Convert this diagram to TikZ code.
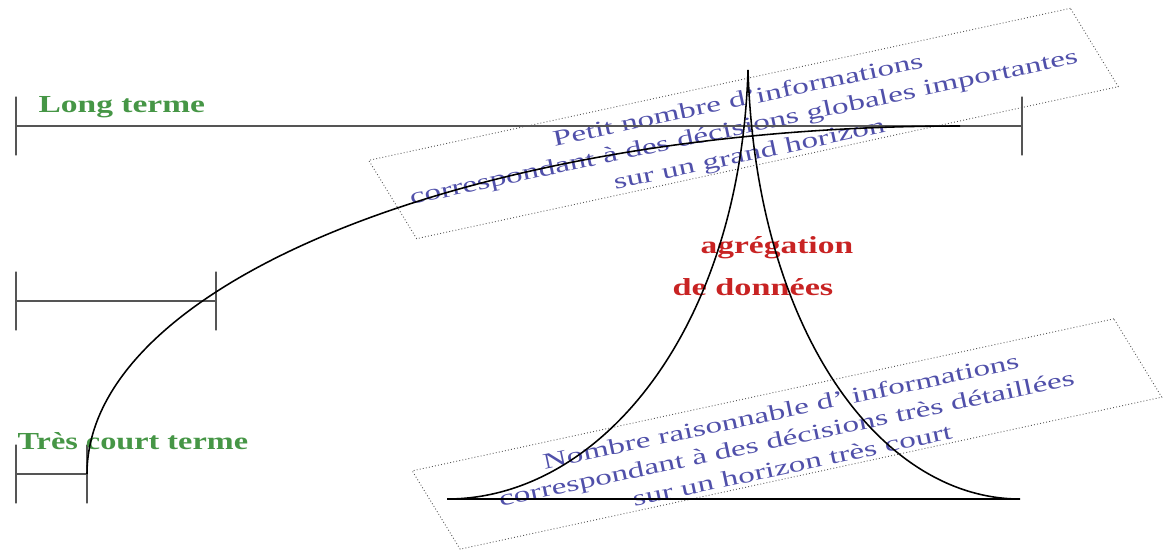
\documentclass[tikz,border=0pt]{standalone}
\usepackage{fontspec}
\setmainfont{Liberation Serif}
\usetikzlibrary{positioning}
\definecolor{vertlabel}{RGB}{70,150,70}
\definecolor{rougelabel}{RGB}{200,35,35}
\definecolor{bleutexte}{RGB}{80,80,170}
\definecolor{grisbarre}{RGB}{85,85,85}

\begin{document}
\begin{tikzpicture}[x=0.45pt, y=-0.45pt,
  barre/.style={draw=grisbarre, line width=0.9pt},
  borne/.style={draw=grisbarre, line width=1.3pt, inner sep=0pt, minimum width=0pt, minimum height=26.5pt},
  courbe/.style={draw=black, line width=0.7pt},
  horizon/.style={font=\fontsize{11}{13}\selectfont\bfseries, text=vertlabel, inner sep=0pt, anchor=base west},
  agreg/.style={font=\fontsize{11}{13}\selectfont\bfseries, text=rougelabel, inner sep=0pt, anchor=base west},
  infobox/.style={draw=grisbarre, densely dotted, minimum width=200pt, minimum height=37.5pt, inner sep=0pt,
    cm={1.5787,0.3420,-0.5746,0.9397,(0,0)}},
  infotext/.style={align=center, text=bleutexte, inner sep=0pt, font=\fontsize{10}{12.4}\selectfont,
    rotate=12, xscale=1.5}]
  \useasboundingbox (0,0) rectangle (1168,552);

  % Rotated text boxes
  \node[infobox] (haut) at (743.5,123.5) {};
  \node[infotext] (haut-txt) at (744,128.5) {Petit nombre d'informations\\correspondant à des décisions globales importantes\\sur un grand horizon};
  \node[infobox] (bas) at (787,434) {};
  \node[infotext] (bas-txt) at (786.5,438) {Nombre raisonnable d' informations\\correspondant à des décisions très détaillées\\sur un horizon très court};

  % Horizon bars
  \node[borne] (lt-g) at (16,126) {};
  \node[borne] (lt-d) at (1022,126) {};
  \node[borne] (mt-g) at (16,301) {};
  \node[borne] (mt-d) at (216,301) {};
  \node[borne] (ct-g) at (16,474) {};
  \node[borne] (ct-d) at (87,474) {};
  \draw[barre] (lt-g) -- (lt-d);
  \draw[barre] (mt-g) -- (mt-d);
  \draw[barre] (ct-g) -- (ct-d);

  % Labels
  \node[horizon, xscale=1.37] (long) at (38,112) {Long terme};
  \node[horizon, xscale=1.32] (court) at (17,449) {Très court terme};
  \node[agreg, xscale=1.37] (agr) at (700,253) {agrégation};
  \node[agreg, xscale=1.4] (don) at (672,295) {de données};

  % Aggregation pyramid
  \coordinate (sommet) at (748,70);
  \coordinate (base-g) at (447,499);
  \coordinate (base-d) at (1020,499);
  \draw[courbe] (base-g) -- (base-d);
  \draw[courbe] (base-g) .. controls (600,499) and (740,330) .. (sommet);
  \draw[courbe] (sommet) .. controls (756,330) and (880,499) .. (base-d);

  % Horizon curve
  \coordinate (raccord) at (960,126);
  \draw[courbe] (ct-d.center) .. controls (87,282) and (478,126) .. (raccord);
\end{tikzpicture}
\end{document}
